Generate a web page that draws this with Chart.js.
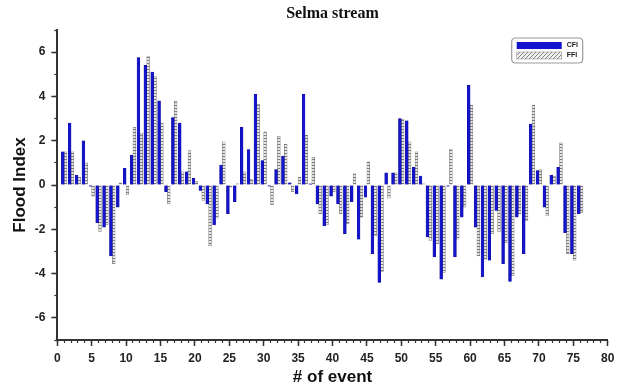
<!DOCTYPE html>
<html><head><meta charset="utf-8">
<script src="https://cdn.jsdelivr.net/npm/chart.js@4.4.1/dist/chart.umd.min.js"></script>
<style>html,body{margin:0;padding:0;background:#fff}#wrap{width:621px;height:389px}</style>
</head><body><div id="wrap"><canvas id="c" width="621" height="389"></canvas></div>
<script>
const events = [1,2,3,4,5,6,7,8,9,10,11,12,13,14,15,16,17,18,19,20,21,22,23,24,25,26,27,28,29,30,31,32,33,34,35,36,37,38,39,40,41,42,43,44,45,46,47,48,49,50,51,52,53,54,55,56,57,58,59,60,61,62,63,64,65,66,67,68,69,70,71,72,73,74,75,76];
const cfi = [1.5,2.8,0.45,2.0,-0.05,-1.7,-1.9,-3.2,-1.0,0.75,1.35,5.75,5.4,5.1,3.8,-0.3,3.05,2.8,0.6,0.3,-0.25,-0.85,-1.8,0.9,-1.3,-0.75,2.6,1.6,4.1,1.1,-0.05,0.7,1.3,0.1,-0.4,4.1,0.05,-0.85,-1.85,-0.5,-0.85,-2.2,-0.75,-2.45,-0.55,-3.1,-4.4,0.55,0.55,3.0,2.9,0.8,0.4,-2.35,-3.25,-4.25,-0.05,-3.25,-1.45,4.5,-1.9,-4.15,-3.4,-1.15,-3.55,-4.35,-1.45,-3.1,2.75,0.65,-1.0,0.45,0.8,-2.15,-3.1,-1.3];
const ffi = [1.5,1.5,0.35,1.0,-0.5,-2.1,-1.8,-3.55,0.1,-0.45,2.6,2.35,5.8,4.9,2.8,-0.85,3.8,0.6,1.55,0.15,-0.7,-2.75,-1.5,1.95,-0.1,0.05,0.6,0.25,3.65,2.4,-0.9,2.2,1.85,-0.3,0.35,2.25,1.25,-1.3,-1.8,-0.3,-1.3,-1.75,0.5,-1.45,1.05,-2.3,-3.9,-0.6,0.55,2.95,1.95,1.5,0.05,-2.5,-2.65,-3.95,1.6,-2.45,-1.0,3.6,-3.2,-3.35,-2.2,-2.1,-2.6,-4.1,-1.3,-1.6,3.6,0.7,-1.4,0.4,1.9,-3.1,-3.4,-1.25];
const seriesNames = ['CFI', 'FFI'];
const xTicks = [0,5,10,15,20,25,30,35,40,45,50,55,60,65,70,75,80];
const yTicks = [-6,-4,-2,0,2,4,6];

const canvas = document.getElementById('c');
const ctx0 = canvas.getContext('2d');
function makePattern(diag){
  const c = document.createElement('canvas');
  const g = c.getContext('2d');
  if (!diag) {
    c.width = 3; c.height = 3;
    g.fillStyle = '#e6e6e6'; g.fillRect(0,0,3,3);
    g.fillStyle = '#7c7c7c'; g.fillRect(0,0,3,1);
  } else {
    c.width = 4; c.height = 4;
    g.fillStyle = '#f0f0f0'; g.fillRect(0,0,4,4);
    g.strokeStyle = '#808080'; g.lineWidth = 1;
    g.beginPath(); g.moveTo(0,4); g.lineTo(4,0); g.moveTo(-1,1); g.lineTo(1,-1); g.moveTo(3,5); g.lineTo(5,3); g.stroke();
  }
  return ctx0.createPattern(c, 'repeat');
}
const hatch = makePattern(false);
const hatchLegend = makePattern(true);

const FONT = '"Liberation Sans", Arial, Helvetica, sans-serif';

const boxLegend = {
  id: 'boxLegend',
  afterDraw(chart) {
    const ctx = chart.ctx, a = chart.chartArea;
    const bx = a.right - 96, by = a.top + 8, bw = 71, bh = 25, r = 4;
    ctx.save();
    ctx.beginPath();
    ctx.moveTo(bx + r, by); ctx.lineTo(bx + bw - r, by); ctx.quadraticCurveTo(bx + bw, by, bx + bw, by + r);
    ctx.lineTo(bx + bw, by + bh - r); ctx.quadraticCurveTo(bx + bw, by + bh, bx + bw - r, by + bh);
    ctx.lineTo(bx + r, by + bh); ctx.quadraticCurveTo(bx, by + bh, bx, by + bh - r);
    ctx.lineTo(bx, by + r); ctx.quadraticCurveTo(bx, by, bx + r, by);
    ctx.closePath();
    ctx.fillStyle = '#ffffff'; ctx.fill();
    ctx.strokeStyle = '#9a9a9a'; ctx.lineWidth = 1.2; ctx.stroke();
    const ds = chart.data.datasets;
    const sw = 45, sh = 7;
    ctx.fillStyle = ds[0].backgroundColor;
    ctx.fillRect(bx + 5, by + 4, sw, sh);
    ctx.fillStyle = hatchLegend;
    ctx.fillRect(bx + 5, by + 14, sw, sh);
    ctx.strokeStyle = '#9a9a9a'; ctx.lineWidth = 0.6;
    ctx.strokeRect(bx + 5, by + 14, sw, sh);
    ctx.fillStyle = '#222';
    ctx.font = 'bold 7px ' + FONT;
    ctx.textBaseline = 'middle';
    ctx.textAlign = 'left';
    ctx.fillText(ds[0].label, bx + 55, by + 7.5);
    ctx.fillText(ds[1].label, bx + 55, by + 17.5);
    ctx.restore();
  }
};

const axisColor = '#333';
new Chart(canvas, {
  type: 'bar',
  data: {
    datasets: [
      { label: seriesNames[0], data: events.map((e, i) => ({x: e, y: cfi[i]})),
        backgroundColor: '#1414cc', borderColor: '#0b0b86', borderWidth: 0.4,
        barThickness: 2.8, xAxisID: 'x', yAxisID: 'y' },
      { label: seriesNames[1], data: events.map((e, i) => ({x: e, y: ffi[i]})),
        backgroundColor: hatch, borderColor: '#7a7a7a', borderWidth: 0.6,
        barThickness: 2.8, xAxisID: 'x', yAxisID: 'y' }
    ]
  },
  options: {
    responsive: false,
    animation: false,
    devicePixelRatio: 1,
    layout: { padding: { left: 0, right: 13.3, top: 0, bottom: 0 } },
    plugins: {
      legend: { display: false },
      tooltip: { enabled: false },
      title: { display: true, text: 'Selma stream', fullSize: false, color: '#111',
        font: { family: '"Liberation Serif", "Times New Roman", serif', size: 16, weight: 'bold' },
        padding: { top: 4, bottom: 6.8 } }
    },
    scales: {
      x: { type: 'linear', position: 'bottom', min: 0, max: 80, offset: false, weight: 1,
        afterBuildTicks: s => { s.ticks = xTicks.map(v => ({value: v})); },
        afterFit: s => { s.height = 49; },
        grid: { display: true, drawOnChartArea: false, drawTicks: true, tickLength: 6, tickColor: axisColor, tickWidth: 1.5, offset: false },
        border: { display: true, color: axisColor, width: 2 },
        ticks: { color: '#222', padding: 5, maxRotation: 0, autoSkip: false, font: { family: FONT, size: 12, weight: 'bold' } },
        title: { display: true, text: '# of event', color: '#111', font: { family: FONT, size: 17, weight: 'bold' }, padding: { top: 0, bottom: 1.5 } }
      },
      x2: { type: 'linear', position: 'bottom', min: 0, max: 80, offset: false, weight: 0,
        afterFit: s => { s.height = 0; },
        ticks: { display: false, stepSize: 1, autoSkip: false },
        grid: { display: true, drawOnChartArea: false, drawTicks: true, tickLength: 3, tickColor: axisColor, tickWidth: 1.2, offset: false },
        border: { display: false }
      },
      y: { type: 'linear', position: 'left', min: -7, max: 7, weight: 1,
        afterBuildTicks: s => { s.ticks = yTicks.map(v => ({value: v})); },
        afterFit: s => { s.width = 57.3; },
        grid: { display: true, drawOnChartArea: false, drawTicks: true, tickLength: 6, tickColor: axisColor, tickWidth: 1.5 },
        border: { display: true, color: axisColor, width: 2 },
        ticks: { color: '#222', padding: 6, font: { family: FONT, size: 12, weight: 'bold' } },
        title: { display: true, text: 'Flood Index', color: '#111', font: { family: FONT, size: 17, weight: 'bold' }, padding: { top: 10, bottom: 0 } }
      },
      y2: { type: 'linear', position: 'left', min: -7, max: 7, weight: 0,
        afterFit: s => { s.width = 0; },
        ticks: { display: false, stepSize: 1 },
        grid: { display: true, drawOnChartArea: false, drawTicks: true, tickLength: 3, tickColor: axisColor, tickWidth: 1.2 },
        border: { display: false }
      }
    }
  },
  plugins: [boxLegend]
});
</script>
</body></html>
